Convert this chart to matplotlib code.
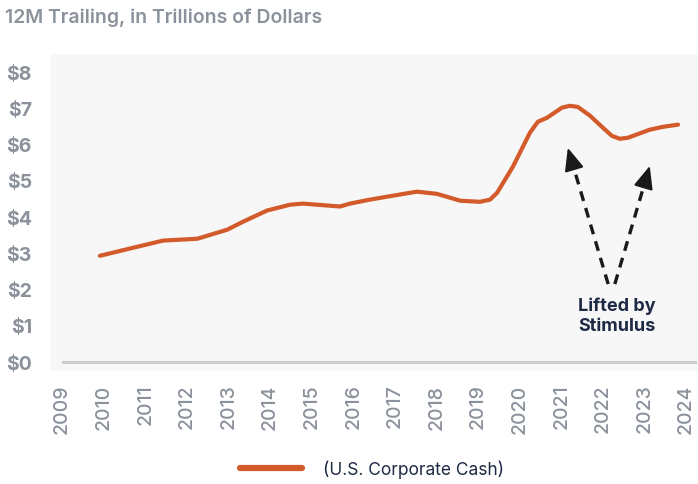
import matplotlib
matplotlib.use("Agg")
import matplotlib.pyplot as plt

plt.rcParams['font.family'] = ['Inter', 'DejaVu Sans']

# data (year, trillions of dollars)
years = [2009.91, 2010.63, 2011.43, 2012.25, 2012.97, 2013.35, 2013.93, 2014.48,
         2014.79, 2015.13, 2015.68, 2015.92, 2016.4, 2016.96, 2017.53, 2018.01,
         2018.25, 2018.57, 2019.05, 2019.29, 2019.46, 2019.84, 2020.25, 2020.44,
         2020.66, 2021.02, 2021.21, 2021.4, 2021.69, 2021.98, 2022.22, 2022.41,
         2022.61, 2023.13, 2023.45, 2023.81]
cash = [2.92, 3.12, 3.34, 3.39, 3.64, 3.86, 4.17, 4.33,
        4.36, 4.33, 4.28, 4.36, 4.47, 4.58, 4.69, 4.63,
        4.55, 4.44, 4.41, 4.47, 4.66, 5.38, 6.32, 6.62,
        6.73, 7.01, 7.06, 7.03, 6.79, 6.48, 6.23, 6.15,
        6.18, 6.40, 6.48, 6.54]

year_ticks = list(range(2009, 2025))
value_ticks = list(range(0, 9))
value_labels = ["$" + str(v) for v in value_ticks]

gray = "#8b929c"
navy = "#1e2a44"
orange = "#d35a2a"

fig = plt.figure(figsize=(6.98, 4.85), dpi=100)
ax = fig.add_axes([50 / 698, 1 - 372 / 485, 648 / 698, 317 / 485])
ax.set_facecolor("#f7f7f7")

ax.axhline(0, xmin=0.02, xmax=0.995, color="#cdcdcd", lw=2.2, zorder=1)
ax.plot(years, cash, color=orange, lw=3.0, solid_capstyle="round",
        label="(U.S. Corporate Cash)", zorder=3)

ax.set_xlim(2008.71, 2024.29)
ax.set_ylim(-0.26, 8.49)
ax.set_xticks(year_ticks)
ax.set_xticklabels([str(y) for y in year_ticks], rotation=90, fontsize=14,
                   color=gray, fontweight="medium")
ax.set_yticks(value_ticks)
ax.set_yticklabels(value_labels, fontsize=14, color=gray, fontweight="bold")
ax.tick_params(length=0)
ax.tick_params(axis="y", pad=13)
ax.tick_params(axis="x", pad=9)
for s in ax.spines.values():
    s.set_visible(False)

# annotation arrows
for tip in [(2021.16, 5.90), (2023.13, 5.40)]:
    tail = (2022.13, 2.14) if tip[0] < 2022 else (2022.29, 2.14)
    fx = tail[0] + (tip[0] - tail[0]) * 0.85
    fy = tail[1] + (tip[1] - tail[1]) * 0.85
    ax.plot([tail[0], fx], [tail[1], fy], color="#1a1a1a", lw=2.4,
            ls=(0, (3, 2.2)), zorder=4)
    ax.annotate("", xy=tip, xytext=(fx, fy),
                arrowprops=dict(arrowstyle="-|>,head_length=1.4,head_width=0.6",
                                color="#1a1a1a", lw=1.5, shrinkA=0, shrinkB=0),
                zorder=4)
ax.text(2022.34, 1.28, "Lifted by\nStimulus", ha="center", va="center",
        fontsize=13, fontweight="bold", color=navy, linespacing=1.3)

fig.text(5 / 698, 1 - 18 / 485, "12M Trailing, in Trillions of Dollars",
         fontsize=14, fontweight="semibold", color=gray, va="center", ha="left")

fig.legend(loc="center", bbox_to_anchor=(372 / 698, 1 - 470 / 485), frameon=False,
           handlelength=3.6, handletextpad=1.2, prop={"size": 12.5},
           labelcolor=navy)
for line in fig.legends[0].get_lines():
    line.set_linewidth(4.5)

fig.savefig("out.png", dpi=100)
